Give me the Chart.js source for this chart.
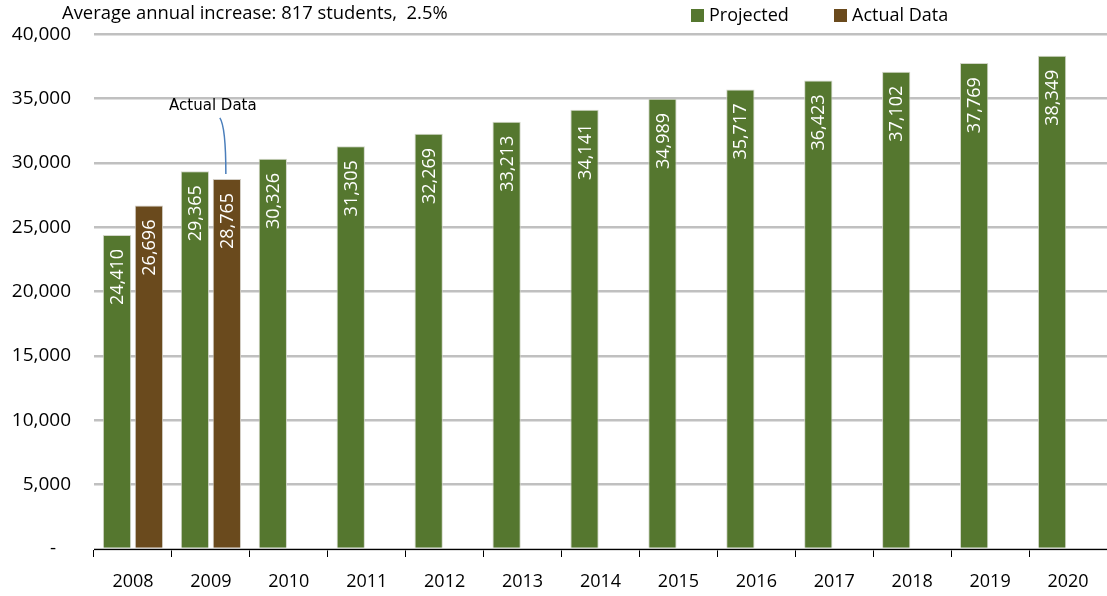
<!DOCTYPE html>
<html>
<head>
<meta charset="utf-8">
<script src="https://cdn.jsdelivr.net/npm/chart.js@4/dist/chart.umd.min.js"></script>
<style>
  html, body { margin: 0; padding: 0; background: #ffffff; }
  #wrap { width: 1107px; height: 596px; position: relative; }
</style>
</head>
<body>
<div id="wrap"><canvas id="c" width="1107" height="596"></canvas></div>
<script>
const categories = ['2008','2009','2010','2011','2012','2013','2014','2015','2016','2017','2018','2019','2020'];
const projected = [24410, 29365, 30326, 31305, 32269, 33213, 34141, 34989, 35717, 36423, 37102, 37769, 38349];
const actual = [26696, 28765, null, null, null, null, null, null, null, null, null, null, null];
const seriesNames = ['Projected', 'Actual Data'];
const titleText = 'Average annual increase: 817 students,  2.5%';
const annotationText = 'Actual Data';

const GREEN = '#55772f';
const BROWN = '#6a4a1d';
const FONT = '"Open Sans", sans-serif';

const fmt = v => v.toLocaleString('en-US');

const labelPlugin = {
  id: 'barLabels',
  afterDatasetsDraw(chart) {
    const ctx = chart.ctx;
    ctx.save();
    ctx.fillStyle = '#ffffff';
    ctx.font = '18px ' + FONT;
    ctx.textAlign = 'right';
    ctx.textBaseline = 'middle';
    chart.data.datasets.forEach((ds, di) => {
      const meta = chart.getDatasetMeta(di);
      meta.data.forEach((bar, i) => {
        const v = ds.data[i];
        if (v == null) return;
        ctx.save();
        ctx.translate(bar.x + 1, bar.y + 14);
        ctx.rotate(-Math.PI / 2);
        ctx.fillText(fmt(v), 0, 0);
        ctx.restore();
      });
    });
    ctx.restore();
  }
};

const decorPlugin = {
  id: 'decor',
  afterDraw(chart) {
    const ctx = chart.ctx;
    ctx.save();
    // title
    ctx.fillStyle = '#000000';
    ctx.font = '18.4px ' + FONT;
    ctx.textAlign = 'left';
    ctx.textBaseline = 'middle';
    ctx.fillText(titleText, 62, 14);
    // legend
    const items = [{x: 691, c: GREEN, t: seriesNames[0]}, {x: 834, c: BROWN, t: seriesNames[1]}];
    ctx.font = '18px ' + FONT;
    items.forEach(it => {
      ctx.fillStyle = it.c;
      ctx.fillRect(it.x, 9, 13, 13);
      ctx.fillStyle = '#000000';
      ctx.fillText(it.t, it.x + 18, 16);
    });
    // annotation for actual 2009 bar
    const meta = chart.getDatasetMeta(1);
    const bar = meta.data[1];
    const tx = bar.x - 14, ty = bar.y - 73;
    ctx.font = '15px "DejaVu Sans", sans-serif';
    ctx.textAlign = 'center';
    ctx.fillStyle = '#000000';
    ctx.fillText(annotationText, tx, ty);
    ctx.strokeStyle = '#4a7ebb';
    ctx.lineWidth = 1.5;
    ctx.beginPath();
    ctx.moveTo(bar.x - 7, bar.y - 61);
    ctx.quadraticCurveTo(bar.x - 1, bar.y - 52, bar.x - 1, bar.y - 5);
    ctx.stroke();
    ctx.restore();
  }
};

new Chart(document.getElementById('c'), {
  type: 'bar',
  data: {
    labels: categories,
    datasets: [
      { label: seriesNames[0], data: projected, backgroundColor: GREEN, borderColor: 'rgba(205,210,195,0.9)', borderWidth: 1,
        categoryPercentage: 0.82, barPercentage: 0.885 },
      { label: seriesNames[1], data: actual, backgroundColor: BROWN, borderColor: 'rgba(205,200,190,0.9)', borderWidth: 1,
        categoryPercentage: 0.82, barPercentage: 0.885 }
    ]
  },
  options: {
    responsive: false,
    animation: false,
    devicePixelRatio: 1,
    layout: { padding: { top: 34, right: 0, bottom: 0, left: 0 } },
    plugins: { legend: { display: false }, title: { display: false }, tooltip: { enabled: false } },
    scales: {
      x: {
        offset: true,
        grid: { display: true, drawOnChartArea: false, drawTicks: true, tickLength: 8, color: '#000000', offset: true },
        border: { display: true, color: '#000000', width: 1 },
        ticks: { color: '#000000', font: { family: FONT, size: 18 }, padding: 14, maxRotation: 0 },
        afterFit(scale) { scale.height = 47; }
      },
      y: {
        min: 0, max: 40000,
        ticks: {
          stepSize: 5000, color: '#000000', font: { family: FONT, size: 19 }, padding: 23,
          callback: v => v === 0 ? '-   ' : fmt(v)
        },
        grid: { color: '#c0c0c0', lineWidth: 2.5, drawTicks: false },
        border: { display: false },
        afterFit(scale) { scale.width = 94; }
      }
    }
  },
  plugins: [labelPlugin, decorPlugin]
});
</script>
</body>
</html>
